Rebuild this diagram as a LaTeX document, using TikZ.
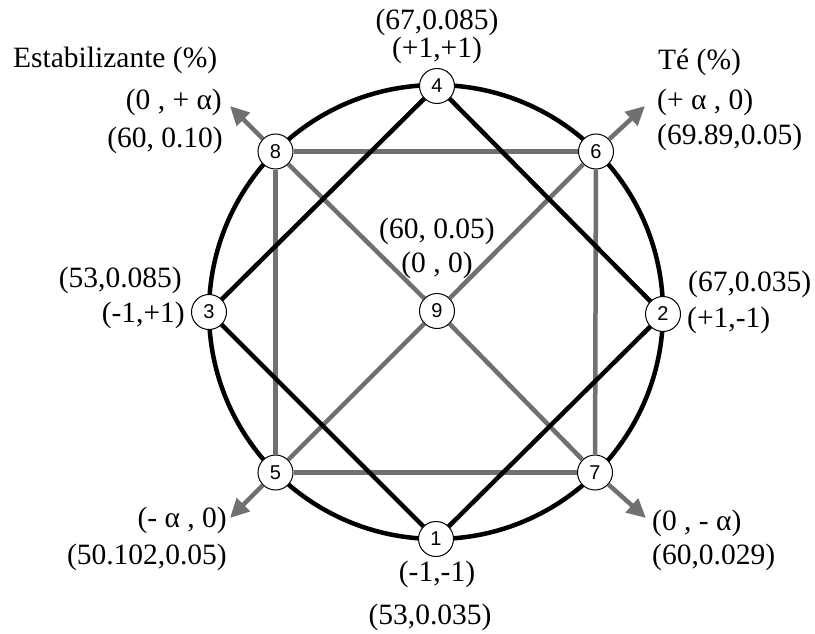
\documentclass[tikz,border=0pt]{standalone}
\usepackage{fontspec}
\setmainfont{Liberation Serif}
\newfontfamily\numfont{Liberation Sans}
\usetikzlibrary{arrows.meta,backgrounds}
\definecolor{lgray}{RGB}{112,112,112}
\begin{document}
\begin{tikzpicture}[x=1pt,y=-1pt,
 pt/.style={circle,draw=black,line width=1pt,fill=white,minimum size=35pt,inner sep=0pt,font=\numfont\fontsize{20}{20}\selectfont},
 lbl/.style={inner sep=0pt,font=\fontsize{29.5}{34}\selectfont},
 blk/.style={line width=4.5pt,black},
 gry/.style={line width=4.5pt,lgray},
 arr/.style={gry,-{Triangle[length=19pt,width=18pt]}}]
\useasboundingbox (0,0) rectangle (815,634);
\coordinate (c) at (436,312);
\node[pt] (n1) at (436,539) {1};
\node[pt] (n2) at (663,314) {2};
\node[pt] (n3) at (209,312) {3};
\node[pt] (n4) at (437,86) {4};
\node[pt] (n5) at (275.5,472.5) {5};
\node[pt] (n6) at (596,151.5) {6};
\node[pt] (n7) at (595,472.5) {7};
\node[pt] (n8) at (275.5,151.5) {8};
\node[pt] (n9) at (437,311) {9};
\begin{scope}[on background layer]
\draw[blk] (c) circle[radius=227];
\end{scope}
% gray square and diagonals
\draw[gry] (n8) -- (n6);
\draw[gry] (n6) -- (n7);
\draw[gry] (n7) -- (n5);
\draw[gry] (n5) -- (n8);
\draw[gry] (n5) -- (n9);
\draw[gry] (n9) -- (n6);
\draw[gry] (n8) -- (n9);
\draw[gry] (n9) -- (n7);
% arrows
\coordinate (t8) at (230,106);
\coordinate (t6) at (645,106);
\coordinate (t5) at (230,518);
\coordinate (t7) at (646,518);
\draw[arr] (n8) -- (t8);
\draw[arr] (n6) -- (t6);
\draw[arr] (n5) -- (t5);
\draw[arr] (n7) -- (t7);
% black diamond
\draw[blk] (n4) -- (n2);
\draw[blk] (n2) -- (n1);
\draw[blk] (n1) -- (n3);
\draw[blk] (n3) -- (n4);
% labels
\node[lbl,anchor=west] (le) at (13,60) {Estabilizante (\%)};
\node[lbl,anchor=east] (l8a) at (222,102) {(0 , + α)};
\node[lbl,anchor=east] (l8b) at (223,140) {(60, 0.10)};
\node[lbl] (l4a) at (437,22) {(67,0.085)};
\node[lbl] (l4b) at (437,50) {(+1,+1)};
\node[lbl,anchor=west] (lt) at (658,62) {Té (\%)};
\node[lbl,anchor=west] (l6a) at (657,102) {(+ α , 0)};
\node[lbl,anchor=west] (l6b) at (657,137) {(69.89,0.05)};
\node[lbl] (l9a) at (437,231) {(60, 0.05)};
\node[lbl] (l9b) at (437,265) {(0 , 0)};
\node[lbl,anchor=east] (l3a) at (182,280) {(53,0.085)};
\node[lbl,anchor=east] (l3b) at (185,315) {(-1,+1)};
\node[lbl,anchor=west] (l2a) at (688,284) {(67,0.035)};
\node[lbl,anchor=west] (l2b) at (687,320) {(+1,-1)};
\node[lbl,anchor=east] (l5a) at (227,520) {(- α , 0)};
\node[lbl,anchor=east] (l5b) at (227,557) {(50.102,0.05)};
\node[lbl,anchor=west] (l7a) at (652,523) {(0 , - α)};
\node[lbl,anchor=west] (l7b) at (652,557) {(60,0.029)};
\node[lbl] (l1a) at (437,574) {(-1,-1)};
\node[lbl] (l1b) at (430,617) {(53,0.035)};
\end{tikzpicture}
\end{document}
